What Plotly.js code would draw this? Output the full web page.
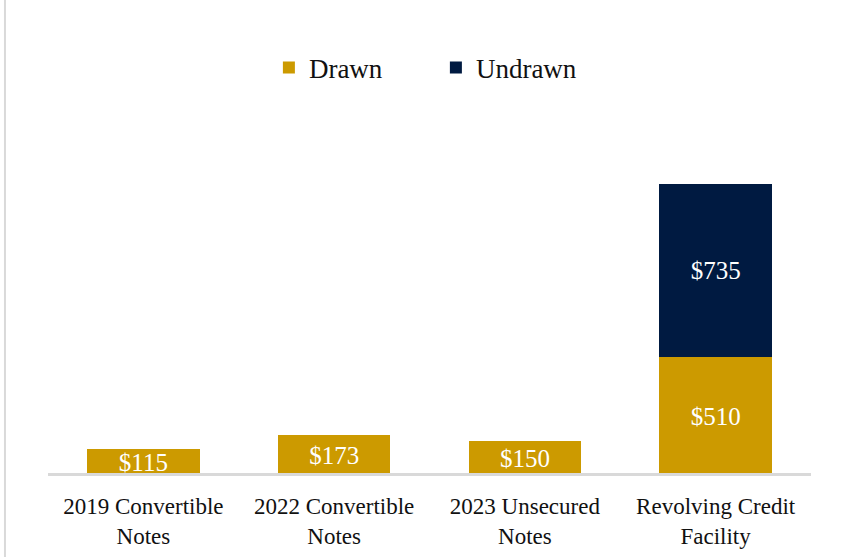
<!DOCTYPE html>
<html>
<head>
<meta charset="utf-8">
<script src="https://cdn.plot.ly/plotly-3.0.1.min.js"></script>
<style>html,body{margin:0;padding:0;background:#fff;}#chart{width:852px;height:557px;}</style>
</head>
<body>
<div id="chart"></div>
<script>
var categories = ["2019 Convertible<br>Notes", "2022 Convertible<br>Notes", "2023 Unsecured<br>Notes", "Revolving Credit<br>Facility"];
var drawnValues = [115, 173, 150, 510];
var undrawnValues = [null, null, null, 735];
var drawnLabels = ["$115", "$173", "$150", "$510"];
var undrawnLabels = ["", "", "", "$735"];

var fontFamily = "'Liberation Serif', 'DejaVu Serif', serif";

var traces = [
  {
    type: "bar", name: "Drawn", x: categories, y: drawnValues,
    text: drawnLabels, textposition: "inside", insidetextanchor: "middle",
    constraintext: "none", textangle: 0,
    textfont: {family: fontFamily, size: 25, color: "#ffffff"},
    marker: {color: "#CC9A00"}, hoverinfo: "none"
  },
  {
    type: "bar", name: "Undrawn", x: categories, y: undrawnValues,
    text: undrawnLabels, textposition: "inside", insidetextanchor: "middle",
    constraintext: "none", textangle: 0,
    textfont: {family: fontFamily, size: 25, color: "#ffffff"},
    marker: {color: "#001A41"}, hoverinfo: "none"
  }
];

var layout = {
  width: 852, height: 557,
  margin: {l: 48, r: 41, t: 100, b: 81},
  barmode: "stack",
  bargap: 0.41,
  paper_bgcolor: "#ffffff", plot_bgcolor: "#ffffff",
  font: {family: fontFamily, color: "#111111"},
  showlegend: true,
  legend: {
    orientation: "h", xref: "container", yref: "container",
    x: 0.3156, xanchor: "left", y: 0.878, yanchor: "middle",
    font: {family: fontFamily, size: 27, color: "#111111"},
    entrywidth: 122, traceorder: "normal"
  },
  xaxis: {
    showgrid: false, zeroline: false, showline: false,
    ticks: "", tickfont: {family: fontFamily, size: 23, color: "#111111"},
    ticklabelstandoff: 14,
    fixedrange: true
  },
  yaxis: {
    range: [0, 1605], visible: false, showgrid: false, zeroline: false, fixedrange: true
  },
  shapes: [
    {type: "line", xref: "paper", yref: "y", x0: 0, x1: 1, y0: 0, y1: 0,
     line: {color: "#d9d9d9", width: 6}, layer: "above"},
    {type: "line", xref: "paper", yref: "paper", x0: -0.0564, x1: -0.0564, y0: -0.3, y1: 1.3,
     line: {color: "#d9d9d9", width: 2}}
  ]
};

Plotly.newPlot("chart", traces, layout, {displayModeBar: false, staticPlot: true});
</script>
</body>
</html>
